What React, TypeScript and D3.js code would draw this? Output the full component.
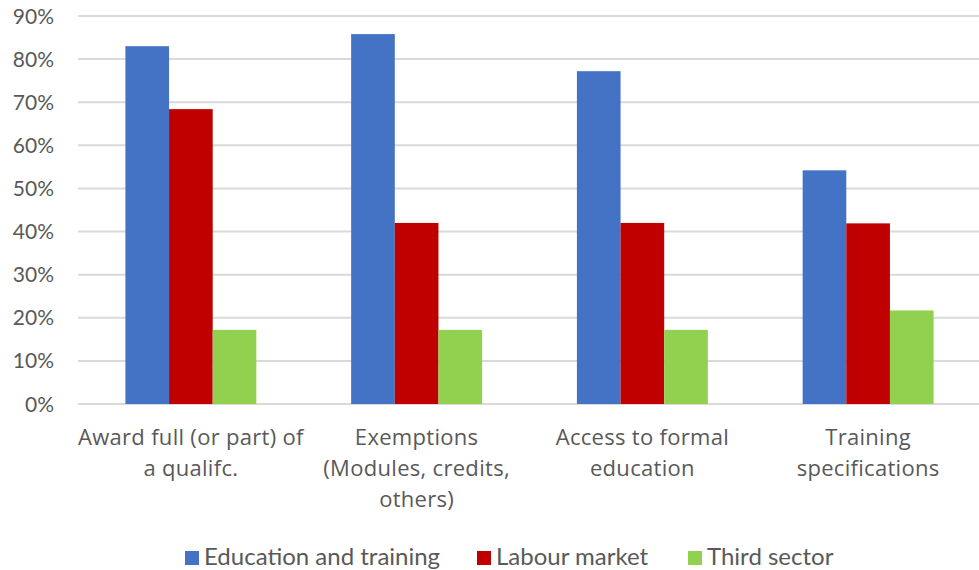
import React from "react";
import * as d3 from "d3";

const categories = [
  ["Award full (or part) of", "a qualifc."],
  ["Exemptions", "(Modules, credits,", "others)"],
  ["Access to formal", "education"],
  ["Training", "specifications"],
];
const seriesNames = ["Education and training", "Labour market", "Third sector"];
const educationValues = [0.83, 0.858, 0.772, 0.542];
const labourValues = [0.684, 0.42, 0.42, 0.419];
const thirdValues = [0.172, 0.172, 0.172, 0.217];
const yTicks = [0, 0.1, 0.2, 0.3, 0.4, 0.5, 0.6, 0.7, 0.8, 0.9];
const colors = ["#4472C4", "#C00000", "#92D050"];

const W = 979;
const H = 570;
const left = 78;
const right = 981;
const top = 16;
const bottom = 404;
const font = "Lato, 'Open Sans', sans-serif";
const catFont = "'Open Sans', Lato, sans-serif";
const textColor = "#595959";

export default function App() {
  const series = [educationValues, labourValues, thirdValues];
  const x = d3.scaleBand<number>().domain(d3.range(categories.length)).range([left, right]).paddingInner(0.42).paddingOuter(0.21);
  const x1 = d3.scaleBand<number>().domain([0, 1, 2]).range([0, x.bandwidth()]);
  const y = d3.scaleLinear().domain([0, 0.9]).range([bottom, top]);
  const fmt = d3.format(".0%");
  const legendX = [185, 477, 688];
  return (
    <svg width={W} height={H} style={{ position: "absolute", left: 0, top: 0 }}>
      <rect width={W} height={H} fill="#fff" />
      {yTicks.map((t) => (
        <g key={t}>
          <line x1={left} x2={right} y1={y(t)} y2={y(t)} stroke="#D9D9D9" strokeWidth={2} />
          <text x={54} y={y(t)} dy="0.36em" textAnchor="end" fontFamily={font} fontSize={21} fill={textColor}>
            {fmt(t)}
          </text>
        </g>
      ))}
      {categories.map((c, i) => (
        <g key={i}>
          {series.map((s, j) => (
            <rect
              key={j}
              x={(x(i) as number) + (x1(j) as number)}
              y={y(s[i])}
              width={x1.bandwidth()}
              height={bottom - y(s[i])}
              fill={colors[j]}
            />
          ))}
          {c.map((line, k) => (
            <text
              key={k}
              x={(x(i) as number) + x.bandwidth() / 2}
              y={445 + k * 31}
              textAnchor="middle"
              fontFamily={catFont}
              fontSize={22}
              letterSpacing={0.3}
              fill={textColor}
            >
              {line}
            </text>
          ))}
        </g>
      ))}
      {seriesNames.map((n, j) => (
        <g key={n}>
          <rect x={legendX[j]} y={551} width={14} height={14} fill={colors[j]} />
          <text x={legendX[j] + 19} y={565} fontFamily={font} fontSize={24} fill={textColor}>
            {n}
          </text>
        </g>
      ))}
    </svg>
  );
}
